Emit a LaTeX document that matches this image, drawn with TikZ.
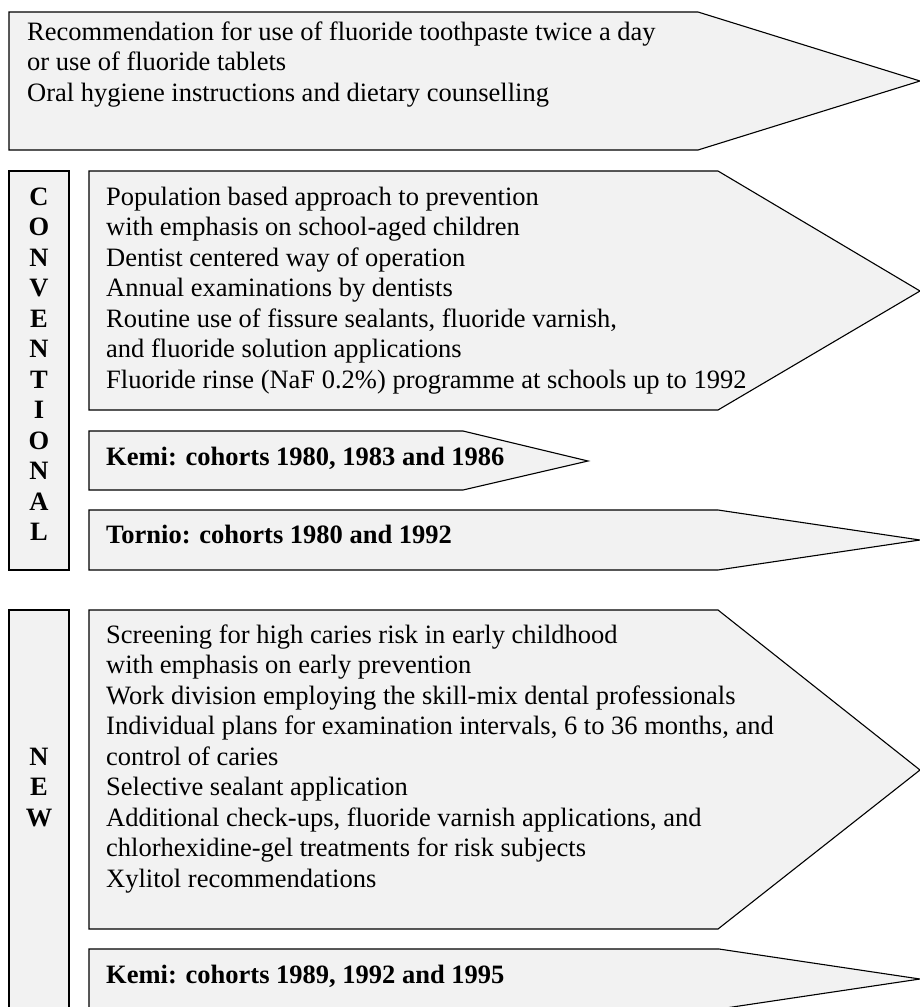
\documentclass[tikz,border=0pt]{standalone}
\usepackage{fontspec}
\setmainfont{Liberation Serif}
\definecolor{boxgray}{HTML}{F2F2F2}
\begin{document}
\begin{tikzpicture}[x=1pt,y=-1pt,
  arrowbox/.style={draw=black, fill=boxgray, line width=1.1pt, line join=miter},
  txt/.style={anchor=north west, inner sep=0pt, align=left, font=\fontsize{26.5}{30.5}\selectfont},
  btxt/.style={anchor=north west, inner sep=0pt, align=left, font=\fontsize{26.5}{30.5}\selectfont\bfseries},
  vtxt/.style={anchor=north, inner sep=0pt, align=center, font=\fontsize{26.5}{30.5}\selectfont\bfseries}]
\useasboundingbox (0,0) rectangle (920,1007);
% shapes
\draw[arrowbox] (9,12) -- (698,12) -- (920,81) -- (698,150) -- (9,150) -- cycle;
\draw[arrowbox] (9,171) rectangle (69,570);
\draw[arrowbox] (89,171) -- (718,171) -- (920,291) -- (718,410) -- (89,410) -- cycle;
\draw[arrowbox] (89,431) -- (463,431) -- (588,461) -- (463,490) -- (89,490) -- cycle;
\draw[arrowbox] (89,510) -- (718,510) -- (920,540) -- (718,570) -- (89,570) -- cycle;
\draw[arrowbox] (9,610) rectangle (69,1030);
\draw[arrowbox] (89,610) -- (718,610) -- (920,770) -- (718,929) -- (89,929) -- cycle;
\draw[arrowbox] (89,949) -- (719,949) -- (920,979) -- (719,1009) -- (89,1009) -- cycle;
% texts
\node[txt] (general) at (27,40-21.35) {\strut Recommendation for use of fluoride toothpaste twice a day\\or use of fluoride tablets\\Oral hygiene instructions and dietary counselling};
\node[vtxt] (conv) at (39,205-21.35) {\strut C\\O\\N\\V\\E\\N\\T\\I\\O\\N\\A\\L};
\node[txt] (convtext) at (106,205-21.35) {\strut Population based approach to prevention\\with emphasis on school-aged children\\Dentist centered way of operation\\Annual examinations by dentists\\Routine use of fissure sealants, fluoride varnish,\\and fluoride solution applications\\Fluoride rinse (NaF 0.2\%) programme at schools up to 1992};
\node[btxt] (kemiold) at (106,465-21.35) {\strut Kemi: cohorts 1980, 1983 and 1986};
\node[btxt] (tornio) at (106,543-21.35) {\strut Tornio: cohorts 1980 and 1992};
\node[vtxt] (new) at (39,765-21.35) {\strut N\\E\\W};
\node[txt] (newtext) at (106,643-21.35) {\strut Screening for high caries risk in early childhood\\with emphasis on early prevention\\Work division employing the skill-mix dental professionals\\Individual plans for examination intervals, 6 to 36 months, and\\control of caries\\Selective sealant application\\Additional check-ups, fluoride varnish applications, and\\chlorhexidine-gel treatments for risk subjects\\Xylitol recommendations};
\node[btxt] (kemining) at (106,983-21.35) {\strut Kemi: cohorts 1989, 1992 and 1995};
\end{tikzpicture}
\end{document}
